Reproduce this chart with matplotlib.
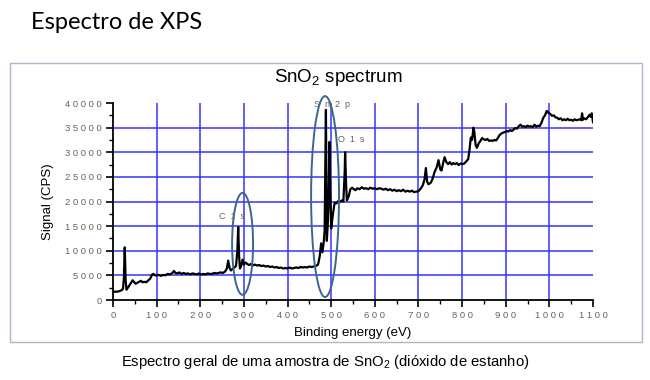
import numpy as np
import matplotlib
matplotlib.use("Agg")
import matplotlib.pyplot as plt
from matplotlib.patches import Ellipse, Rectangle

plt.rcParams['font.family'] = ['Liberation Sans', 'DejaVu Sans']
plt.rcParams['mathtext.default'] = 'regular'

# survey spectrum (binding energy in eV, signal in CPS)
energy = [0, 5, 10, 15, 20, 23, 25, 27, 29, 31, 35, 40, 45, 48, 52, 56, 60, 64, 68, 72,
          76, 80, 85, 90, 93, 96, 100, 105, 110, 115, 120, 125, 130, 135, 140, 143, 147,
          152, 157, 162, 167, 172, 177, 182, 187, 192, 197, 202, 207, 212, 217, 222, 227,
          232, 237, 242, 247, 252, 257, 261, 264, 267, 270, 274, 278, 282, 285, 287, 289,
          291, 294, 297, 300, 304, 308, 312, 316, 320, 325, 330, 335, 340, 345, 350, 355,
          360, 365, 370, 375, 380, 385, 390, 395, 400, 405, 410, 415, 420, 425, 430, 435,
          440, 445, 450, 455, 460, 465, 470, 474, 477, 480, 483, 485, 487, 488, 489, 490,
          492, 494, 496, 498, 500, 502, 505, 508, 512, 516, 520, 524, 528, 531, 532, 534,
          536, 540, 544, 548, 552, 556, 560, 565, 570, 575, 580, 585, 590, 595, 600, 605,
          610, 615, 620, 625, 630, 635, 640, 645, 650, 655, 660, 665, 670, 675, 680, 685,
          690, 695, 700, 705, 710, 714, 717, 720, 723, 728, 732, 737, 742, 746, 750, 753,
          757, 760, 764, 768, 772, 776, 780, 784, 788, 792, 796, 800, 805, 810, 814, 817,
          820, 823, 826, 828, 831, 834, 838, 842, 846, 850, 854, 858, 862, 866, 870, 874,
          878, 882, 886, 890, 894, 898, 902, 906, 910, 914, 918, 922, 926, 930, 934, 938,
          942, 946, 950, 954, 958, 962, 966, 970, 974, 978, 982, 986, 990, 994, 998, 1002,
          1006, 1010, 1014, 1018, 1022, 1026, 1030, 1034, 1038, 1042, 1046, 1050, 1054,
          1058, 1062, 1066, 1070, 1073, 1075, 1077, 1080, 1084, 1088, 1092, 1095, 1097,
          1099, 1100]
signal = [1600, 1700, 1700, 1800, 2000, 2300, 4500, 10700, 4000, 2100, 2600, 3300, 4000,
          3700, 3300, 3500, 3700, 3900, 3600, 3700, 3600, 3900, 4300, 5200, 5300, 5000,
          5000, 5100, 4900, 5100, 5000, 5300, 5200, 5400, 5900, 5500, 5400, 5600, 5300,
          5500, 5300, 5400, 5200, 5400, 5300, 5200, 5400, 5200, 5300, 5200, 5400, 5300,
          5300, 5500, 5400, 5500, 5600, 5500, 5800, 6400, 8000, 6600, 6000, 6300, 6600,
          6900, 10000, 14800, 9000, 6400, 7000, 8200, 7200, 7600, 7300, 7100, 7300, 7000,
          7200, 7000, 7100, 6900, 7000, 6800, 6900, 6700, 6800, 6600, 6700, 6500, 6600,
          6400, 6500, 6400, 6600, 6400, 6500, 6600, 6500, 6700, 6600, 6700, 6600, 6800,
          6700, 6800, 6900, 7200, 9000, 11500, 9700, 11800, 14000, 30000, 38600, 26000,
          12000, 15000, 20000, 32100, 22000, 14500, 16000, 18000, 19800, 19600, 20100,
          19900, 20200, 20000, 26000, 30000, 24000, 20200, 21000, 22500, 22800, 22500,
          22300, 22700, 22500, 22900, 22600, 22700, 22500, 22800, 22600, 22700, 22500,
          22700, 22600, 22400, 22600, 22300, 22500, 22200, 22400, 22100, 22300, 22100,
          22400, 22000, 22200, 22000, 22200, 21900, 22000, 22100, 22600, 23300, 24500,
          26800, 24000, 23500, 23800, 24500, 26000, 27000, 28400, 26500, 26300, 28000,
          29000, 28000, 27600, 28000, 27500, 27800, 27600, 27800, 27400, 27700, 27600,
          27700, 28200, 28600, 30500, 33000, 32500, 35000, 34200, 31500, 30900, 31800,
          32300, 32900, 32600, 32500, 32700, 32300, 32400, 32300, 32500, 32400, 32900,
          33500, 33800, 34000, 34100, 34300, 34200, 34500, 34300, 34600, 34900, 34800,
          35300, 35600, 35200, 35300, 35100, 35400, 35200, 35300, 35100, 35600, 35200,
          35400, 35300, 36000, 37000, 37500, 38400, 38000, 37800, 37400, 37500, 37100,
          37000, 36700, 36900, 36500, 36700, 36500, 36800, 36500, 36600, 36400, 36700,
          36500, 36600, 36700, 36500, 37900, 36600, 36900, 36700, 37100, 37600, 37200,
          37900, 36800, 36100]

xticks = list(range(0, 1101, 100))
yticks = list(range(0, 40001, 5000))

# peak labels: text, x, y
peak_names = ["C  1  s", "S  n  2  p", "O  1  s"]
peak_x = [272, 502, 545]
peak_y = [16900, 39700, 32600]

# regions circled on the figure: center x, center y, width, height
ell_x = [297, 486]
ell_y = [11400, 21000]
ell_w = [48, 64]
ell_h = [20700, 40800]

fig = plt.figure(figsize=(6.5, 3.8), dpi=100)

# outer frame around the chart
fig.patches.append(Rectangle((0.0154, 0.1), 0.972, 0.734, transform=fig.transFigure,
                             fill=False, edgecolor='#a9b8c8', linewidth=1.0))

fig.text(0.048, 0.94, "Espectro de XPS", fontsize=17, family=['Lato', 'DejaVu Sans'],
         ha='left', va='center', color='black')

ax = fig.add_axes([0.1738, 0.2105, 0.7385, 0.5184])

grid_col = '#3535f5'
for gx in xticks[1:-1]:
    ax.plot([gx, gx], [0, 40000], color=grid_col, lw=1.1, zorder=1)
for gy in yticks[1:-1]:
    ax.plot([0, 1100], [gy, gy], color=grid_col, lw=1.1, zorder=1)

ax.plot(energy, signal, color='black', lw=1.6, zorder=3)

for cx, cy, w, h in zip(ell_x, ell_y, ell_w, ell_h):
    ax.add_patch(Ellipse((cx, cy), w, h, fill=False, edgecolor='#3a6690', lw=1.4,
                         zorder=4, clip_on=False))

lab_col = '#6e6050'
for name, px, py in zip(peak_names, peak_x, peak_y):
    ax.text(px, py, name, fontsize=6.5, color=lab_col, ha='center', va='center', zorder=5)

ax.set_xlim(0, 1100)
ax.set_ylim(0, 40000)
ax.set_xticks(xticks)
ax.set_xticklabels([" ".join(str(v)) for v in xticks])
ax.set_yticks(yticks)
ax.set_yticklabels([" ".join(str(v)) for v in yticks])
ax.set_xticks(list(range(50, 1100, 100)), minor=True)
ax.set_yticks(list(range(2500, 40000, 5000)), minor=True)
ax.tick_params(which='major', direction='out', length=5, width=1.2, labelsize=6.8,
               labelcolor=lab_col, pad=3)
ax.tick_params(which='minor', direction='out', length=3, width=1.0)
for side in ['top', 'right']:
    ax.spines[side].set_visible(False)
for side in ['left', 'bottom']:
    ax.spines[side].set_linewidth(1.3)

fig.text(0.52, 0.795, "SnO$_2$ spectrum", fontsize=13.5, ha='center', va='center')
ax.set_xlabel("Binding energy (eV)", fontsize=9.5, labelpad=5)
ax.set_ylabel("Signal (CPS)", fontsize=9.5, labelpad=8)

fig.text(0.5, 0.047, "Espectro geral de uma amostra de SnO$_2$ (dióxido de estanho)",
         fontsize=10.7, ha='center', va='center')

fig.savefig("out.png", dpi=100)
